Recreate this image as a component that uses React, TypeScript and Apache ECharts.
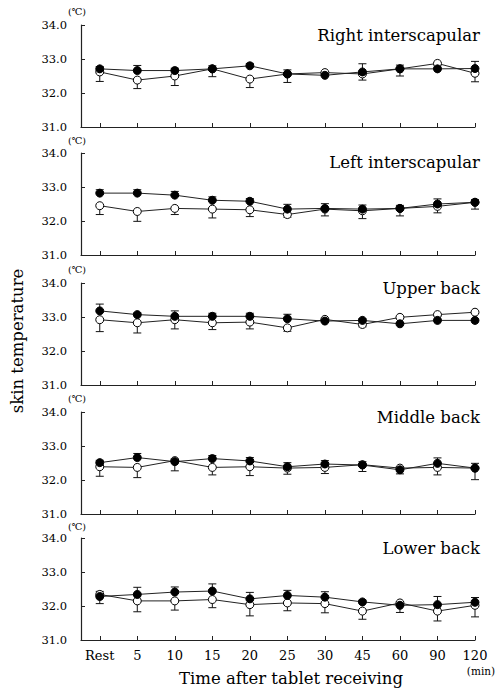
import React, { useEffect, useRef } from "react";
import * as echarts from "echarts";

const categories = ["Rest", "5", "10", "15", "20", "25", "30", "45", "60", "90", "120"];
const yTicks = [31, 32, 33, 34];

const panelTitles = ["Right interscapular", "Left interscapular", "Upper back", "Middle back", "Lower back"];

const rightFilled = [32.71, 32.66, 32.66, 32.71, 32.8, 32.56, 32.52, 32.62, 32.71, 32.71, 32.72];
const rightFilledSD = [0.07, 0.15, 0.07, 0.09, 0.07, 0.12, 0.07, 0.24, 0.11, 0.05, 0.21];
const rightOpen = [32.62, 32.38, 32.5, 32.71, 32.41, 32.56, 32.6, 32.56, 32.71, 32.87, 32.58];
const rightOpenSD = [0.28, 0.25, 0.28, 0.23, 0.25, 0.25, 0.07, 0.18, 0.21, 0.05, 0.25];

const leftFilled = [32.82, 32.82, 32.76, 32.61, 32.58, 32.35, 32.37, 32.35, 32.37, 32.5, 32.55];
const leftFilledSD = [0.1, 0.1, 0.11, 0.1, 0.08, 0.14, 0.14, 0.12, 0.09, 0.15, 0.08];
const leftOpen = [32.45, 32.28, 32.37, 32.35, 32.33, 32.19, 32.35, 32.3, 32.37, 32.43, 32.55];
const leftOpenSD = [0.26, 0.29, 0.18, 0.26, 0.2, 0.08, 0.2, 0.23, 0.22, 0.19, 0.2];

const upperFilled = [33.18, 33.07, 33.02, 33.02, 33.02, 32.95, 32.88, 32.9, 32.8, 32.9, 32.9];
const upperFilledSD = [0.2, 0.05, 0.16, 0.09, 0.09, 0.13, 0.05, 0.05, 0.04, 0.04, 0.04];
const upperOpen = [32.92, 32.83, 32.92, 32.83, 32.85, 32.68, 32.93, 32.78, 32.99, 33.07, 33.14];
const upperOpenSD = [0.35, 0.3, 0.27, 0.2, 0.2, 0.1, 0.05, 0.07, 0.04, 0.04, 0.04];

const middleFilled = [32.51, 32.66, 32.54, 32.63, 32.56, 32.39, 32.47, 32.44, 32.3, 32.49, 32.35];
const middleFilledSD = [0.07, 0.12, 0.08, 0.09, 0.1, 0.12, 0.1, 0.1, 0.05, 0.16, 0.14];
const middleOpen = [32.39, 32.37, 32.57, 32.37, 32.39, 32.35, 32.37, 32.45, 32.35, 32.37, 32.35];
const middleOpenSD = [0.28, 0.3, 0.3, 0.22, 0.26, 0.18, 0.18, 0.2, 0.17, 0.22, 0.34];

const lowerFilled = [32.28, 32.34, 32.41, 32.44, 32.21, 32.31, 32.26, 32.12, 32.02, 32.04, 32.11];
const lowerFilledSD = [0.15, 0.21, 0.15, 0.21, 0.19, 0.15, 0.16, 0.05, 0.05, 0.24, 0.14];
const lowerOpen = [32.34, 32.15, 32.15, 32.19, 32.04, 32.09, 32.07, 31.85, 32.09, 31.85, 32.02];
const lowerOpenSD = [0.27, 0.32, 0.27, 0.24, 0.33, 0.23, 0.27, 0.24, 0.28, 0.29, 0.34];

const panels = [
  { f: rightFilled, fsd: rightFilledSD, o: rightOpen, osd: rightOpenSD },
  { f: leftFilled, fsd: leftFilledSD, o: leftOpen, osd: leftOpenSD },
  { f: upperFilled, fsd: upperFilledSD, o: upperOpen, osd: upperOpenSD },
  { f: middleFilled, fsd: middleFilledSD, o: middleOpen, osd: middleOpenSD },
  { f: lowerFilled, fsd: lowerFilledSD, o: lowerOpen, osd: lowerOpenSD },
];

const FONT = '"DejaVu Serif", "Noto Sans CJK JP", serif';
const gridTops = [25, 153, 283, 412, 538];
const gridHeight = 102;
const titleY = [35, 162, 288, 417, 548];
const unitY = [11, 140, 269, 398, 526];

export default function App() {
  const ref = useRef<HTMLDivElement>(null);

  useEffect(() => {
    document.body.style.margin = "0";
    if (!ref.current) return;
    const chart = echarts.init(ref.current, undefined, { renderer: "svg" });
    const tickVals = categories.map((_, i) => i);

    const grids: any[] = [];
    const xAxes: any[] = [];
    const yAxes: any[] = [];
    const series: any[] = [];
    const graphics: any[] = [];

    const errRender = (dir: number) => (params: any, api: any) => {
      const x = api.value(0);
      const y = api.value(1);
      const e = api.value(2);
      const p0 = api.coord([x, y]);
      const p1 = api.coord([x, y + dir * e]);
      return {
        type: "group",
        children: [
          { type: "line", shape: { x1: p0[0], y1: p0[1], x2: p1[0], y2: p1[1] }, style: { stroke: "#111", lineWidth: 1 } },
          { type: "line", shape: { x1: p1[0] - 4, y1: p1[1], x2: p1[0] + 4, y2: p1[1] }, style: { stroke: "#111", lineWidth: 1 } },
        ],
      };
    };

    panels.forEach((p, k) => {
      grids.push({ left: 81, right: 22, top: gridTops[k], height: gridHeight });
      xAxes.push({
        type: "value",
        gridIndex: k,
        min: -0.5,
        max: 10,
        axisLine: { show: true, onZero: false, lineStyle: { color: "#222", width: 1.2 } },
        axisTick: { show: true, inside: true, length: 4, customValues: tickVals, lineStyle: { color: "#222" } },
        axisLabel: {
          show: k === 4,
          customValues: tickVals,
          formatter: (v: number) => categories[Math.round(v)] ?? "",
          fontFamily: FONT,
          fontSize: 13,
          color: "#000",
          margin: 9,
        },
        splitLine: { show: false },
      });
      yAxes.push({
        type: "value",
        gridIndex: k,
        min: yTicks[0],
        max: yTicks[yTicks.length - 1],
        interval: 1,
        axisLine: { show: true, onZero: false, lineStyle: { color: "#222", width: 1.2 } },
        axisTick: { show: true, inside: true, length: 4, lineStyle: { color: "#222" } },
        axisLabel: { formatter: (v: number) => v.toFixed(1), fontFamily: FONT, fontSize: 11.5, color: "#000", margin: 14 },
        splitLine: { show: false },
      });
      series.push({
        type: "custom",
        xAxisIndex: k,
        yAxisIndex: k,
        renderItem: errRender(-1),
        data: p.o.map((v, i) => [i, v, p.osd[i]]),
        z: 1,
      });
      series.push({
        type: "custom",
        xAxisIndex: k,
        yAxisIndex: k,
        renderItem: errRender(1),
        data: p.f.map((v, i) => [i, v, p.fsd[i]]),
        z: 1,
      });
      series.push({
        type: "line",
        xAxisIndex: k,
        yAxisIndex: k,
        data: p.o.map((v, i) => [i, v]),
        symbol: "circle",
        symbolSize: 8,
        lineStyle: { color: "#222", width: 1 },
        itemStyle: { color: "#fff", borderColor: "#000", borderWidth: 1 },
        z: 2,
      });
      series.push({
        type: "line",
        xAxisIndex: k,
        yAxisIndex: k,
        data: p.f.map((v, i) => [i, v]),
        symbol: "circle",
        symbolSize: 8,
        lineStyle: { color: "#222", width: 1 },
        itemStyle: { color: "#000", borderColor: "#000", borderWidth: 1 },
        z: 3,
      });
      graphics.push({
        type: "text",
        x: 480,
        y: titleY[k],
        style: { text: panelTitles[k], fontFamily: FONT, fontSize: 16.5, fill: "#000", textAlign: "right", textVerticalAlign: "middle" },
      });
      graphics.push({
        type: "text",
        x: 77,
        y: unitY[k],
        style: { text: "(℃)", fontFamily: FONT, fontSize: 9.5, fill: "#000", textAlign: "center", textVerticalAlign: "middle" },
      });
    });

    graphics.push({
      type: "text",
      x: 17,
      y: 341,
      rotation: Math.PI / 2,
      style: { text: "skin temperature", fontFamily: FONT, fontSize: 16.5, fill: "#000", textAlign: "center", textVerticalAlign: "middle" },
    });
    graphics.push({
      type: "text",
      x: 291,
      y: 678,
      style: { text: "Time after tablet receiving", fontFamily: FONT, fontSize: 16.5, fill: "#000", textAlign: "center", textVerticalAlign: "middle" },
    });
    graphics.push({
      type: "text",
      x: 481,
      y: 671,
      style: { text: "(min)", fontFamily: FONT, fontSize: 10.5, fill: "#000", textAlign: "center", textVerticalAlign: "middle" },
    });

    chart.setOption({
      animation: false,
      backgroundColor: "#fff",
      grid: grids,
      xAxis: xAxes,
      yAxis: yAxes,
      series,
      graphic: graphics,
    });
    return () => chart.dispose();
  }, []);

  return <div ref={ref} style={{ position: "absolute", left: 0, top: 0, width: 497, height: 690 }} />;
}
